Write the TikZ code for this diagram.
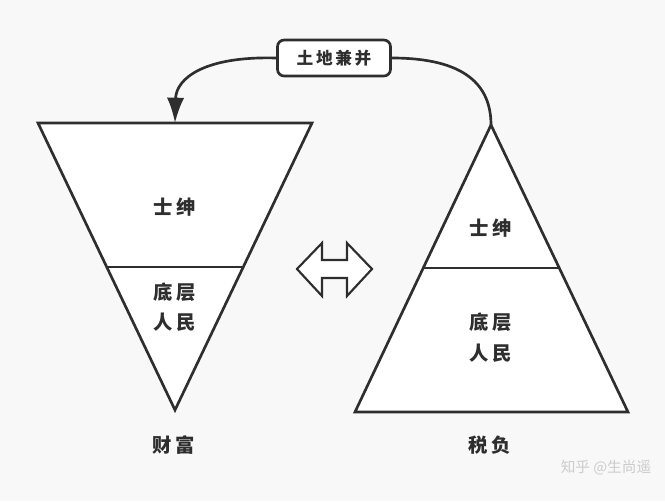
\documentclass[tikz,border=0pt]{standalone}
\usepackage{fontspec}
\newfontfamily\cjk{Noto Sans CJK SC}
\usetikzlibrary{arrows.meta}
\definecolor{bgc}{HTML}{F8F8F8}
\definecolor{ink}{HTML}{2E2E2E}
\tikzset{
  shape line/.style={draw=ink, line width=2pt, line join=miter},
  lbl/.style={font=\cjk\bfseries\fontsize{14.5}{16}\selectfont, text=ink, inner sep=0pt},
  divider/.style={draw=ink, line width=2pt},
  link/.style={draw=ink, line width=2pt},
}
\begin{document}
\begin{tikzpicture}[x=0.75pt,y=-0.75pt]
\fill[bgc] (0,0) rectangle (665,501);
\useasboundingbox (0,0) rectangle (665,501);
% left inverted triangle
\coordinate (LA) at (38,123);
\coordinate (LB) at (312,123);
\coordinate (LC) at (175,410);
\filldraw[shape line, fill=white] (LA) -- (LB) -- (LC) -- cycle;
\coordinate (LD1) at (107,267);
\coordinate (LD2) at (243,267);
\draw[divider] (LD1) -- (LD2);
% right triangle
\coordinate (RA) at (491,125);
\coordinate (RB) at (628,412);
\coordinate (RC) at (355,412);
\filldraw[shape line, fill=white] (RA) -- (RB) -- (RC) -- cycle;
\coordinate (RD1) at (423,268);
\coordinate (RD2) at (559,268);
\draw[divider] (RD1) -- (RD2);
% labels
\node[lbl] (l1) at (175,207) {士\hspace{3pt}绅};
\node[lbl] (l2) at (175,292) {底\hspace{3pt}层};
\node[lbl] (l3) at (175,322) {人\hspace{3pt}民};
\node[lbl] (r1) at (491,228) {士\hspace{3pt}绅};
\node[lbl] (r2) at (491,322) {底\hspace{3pt}层};
\node[lbl] (r3) at (491,353) {人\hspace{3pt}民};
\node[lbl] (b1) at (174,445) {财\hspace{3pt}富};
\node[lbl] (b2) at (490,445) {税\hspace{3pt}负};
% double arrow
\filldraw[draw=ink, line width=1.6pt, fill=white, line join=miter]
  (297,269) -- (322,243) -- (322,260) -- (347,260) -- (347,243) -- (372,269)
  -- (347,296) -- (347,278) -- (322,278) -- (322,296) -- cycle;
% top box
\node[draw=ink, line width=2pt, rounded corners=5pt, fill=white,
      minimum width=113*0.75pt, minimum height=36*0.75pt,
      font=\cjk\bfseries\fontsize{12.5}{14}\selectfont, text=ink, inner sep=0pt] (box) at (334,58) {土\hspace{2pt}地\hspace{2pt}兼\hspace{2pt}并};
\draw[link, -{Latex[length=19pt,width=13pt]}] (box.west) .. controls (205,56) and (176,78) .. (LA -| LC);
\draw[link] (box.east) .. controls (465,58) and (491,85) .. (RA);
% watermark
\node[font=\cjk\fontsize{11}{12}\selectfont, text=gray!40, inner sep=0pt] (wm) at (606,468) {知乎 @生尚遥};
\end{tikzpicture}
\end{document}
